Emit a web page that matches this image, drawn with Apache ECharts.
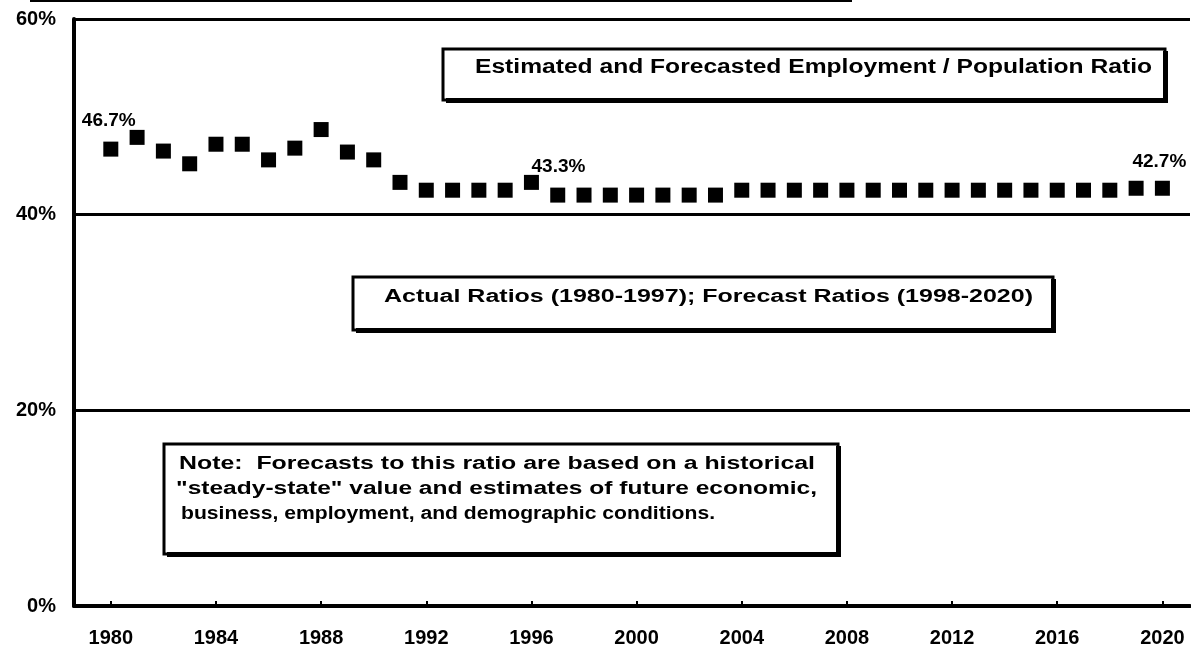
<!DOCTYPE html>
<html>
<head>
<meta charset="utf-8">
<script src="https://cdn.jsdelivr.net/npm/echarts@6/dist/echarts.min.js"></script>
<style>
  html, body { margin: 0; padding: 0; background: #fff; }
  #chart { width: 1191px; height: 650px; }
</style>
</head>
<body>
<div id="chart"></div>
<script>
// Employment / population ratio, actual 1980-1997 and forecast 1998-2020 (percent)
const years = [
  1980, 1981, 1982, 1983, 1984, 1985, 1986, 1987, 1988, 1989,
  1990, 1991, 1992, 1993, 1994, 1995, 1996, 1997, 1998, 1999,
  2000, 2001, 2002, 2003, 2004, 2005, 2006, 2007, 2008, 2009,
  2010, 2011, 2012, 2013, 2014, 2015, 2016, 2017, 2018, 2019, 2020
];
const ratios = [
  46.7, 47.9, 46.5, 45.2, 47.2, 47.2, 45.6, 46.8, 48.7, 46.4,
  45.6, 43.3, 42.5, 42.5, 42.5, 42.5, 43.3, 42.0, 42.0, 42.0,
  42.0, 42.0, 42.0, 42.0, 42.5, 42.5, 42.5, 42.5, 42.5, 42.5,
  42.5, 42.5, 42.5, 42.5, 42.5, 42.5, 42.5, 42.5, 42.5, 42.7, 42.7
];
// Years whose value is written next to the marker
const labelledYears = [1980, 1996, 2020];
const xTickLabels = [1980, 1984, 1988, 1992, 1996, 2000, 2004, 2008, 2012, 2016, 2020];
const yTickLabels = [0, 20, 40, 60];

const titleText = 'Estimated and Forecasted Employment / Population Ratio';
const rangeText = 'Actual Ratios (1980-1997); Forecast Ratios (1998-2020)';
const noteLines = [
  'Note:  Forecasts to this ratio are based on a historical',
  '"steady-state" value and estimates of future economic,',
  'business, employment, and demographic conditions.'
];

const FONT_FAMILY = '"Liberation Sans", Arial, sans-serif';
const INK = '#000';

// Measure a string so a caption can be stretched to a given width
const measureCtx = document.createElement('canvas').getContext('2d');
function textWidth(str, font) {
  measureCtx.font = font;
  return measureCtx.measureText(str).width;
}
function caption(str, left, cy, size, targetWidth) {
  const font = 'bold ' + size + 'px ' + FONT_FAMILY;
  const w = textWidth(str, font);
  return {
    type: 'text', x: left, y: cy, z: 20,
    scaleX: targetWidth ? targetWidth / w : 1,
    style: { text: str, font: font, fill: INK, textAlign: 'left', textVerticalAlign: 'middle' }
  };
}
// Framed box with a heavier bottom and right edge
function frame(x, y, w, h) {
  return [
    { type: 'rect', z: 10, shape: { x: x, y: y, width: w, height: h },
      style: { fill: '#fff', stroke: INK, lineWidth: 3 } },
    { type: 'rect', z: 11, shape: { x: x + 3, y: y + h - 2, width: w, height: 5 }, style: { fill: INK } },
    { type: 'rect', z: 11, shape: { x: x + w - 2, y: y + 2, width: 5, height: h + 1 }, style: { fill: INK } }
  ];
}

// Per-point label placement for the annotated years
const labelOffsets = { 1980: [-2, -6], 1996: [27, 6], 2020: [-3, -4] };
const points = years.map((yr, i) => {
  const item = { value: [yr, ratios[i]] };
  if (labelledYears.indexOf(yr) >= 0) {
    item.label = {
      show: true,
      position: 'top',
      offset: labelOffsets[yr],
      formatter: ratios[i].toFixed(1) + '%',
      color: INK,
      fontSize: 19,
      fontWeight: 'bold',
      fontFamily: FONT_FAMILY
    };
  }
  return item;
});

const graphics = [
  { type: 'rect', shape: { x: 30, y: 0, width: 822, height: 2 }, style: { fill: INK } }
]
  .concat(frame(443, 49, 722, 51))
  .concat([caption(titleText, 475, 67, 20, 677)])
  .concat(frame(353, 277, 700, 53))
  .concat([caption(rangeText, 384, 297, 18, 649)])
  .concat(frame(164, 444, 674, 110))
  .concat([
    caption(noteLines[0], 179, 464, 18, 636),
    caption(noteLines[1], 176, 489, 18, 641),
    caption(noteLines[2], 181, 514, 18, 534)
  ]);

const chart = echarts.init(document.getElementById('chart'), null, { renderer: 'canvas' });
chart.setOption({
  backgroundColor: '#fff',
  animation: false,
  grid: { left: 74, right: 1, top: 19, bottom: 44, containLabel: false },
  xAxis: {
    type: 'value',
    min: 1978.6,
    max: 2021.05,
    axisLine: { show: true, lineStyle: { color: INK, width: 4 } },
    axisTick: { show: true, inside: true, length: 5, lineStyle: { color: INK, width: 2 }, customValues: xTickLabels },
    splitLine: { show: false },
    axisLabel: {
      customValues: xTickLabels,
      formatter: v => String(v),
      color: INK,
      fontSize: 20,
      fontWeight: 'bold',
      fontFamily: FONT_FAMILY,
      margin: 22
    }
  },
  yAxis: {
    type: 'value',
    min: 0,
    max: 60,
    interval: 20,
    axisLine: { show: true, lineStyle: { color: INK, width: 4 } },
    axisTick: { show: false },
    splitLine: { show: true, lineStyle: { color: INK, width: 3 } },
    axisLabel: {
      customValues: yTickLabels,
      formatter: '{value}%',
      color: INK,
      fontSize: 20,
      fontWeight: 'bold',
      fontFamily: FONT_FAMILY,
      margin: 18
    }
  },
  series: [{
    type: 'scatter',
    symbol: 'rect',
    symbolSize: 15,
    itemStyle: { color: INK, opacity: 1 },
    data: points,
    z: 5
  }],
  graphic: graphics
});
</script>
</body>
</html>
